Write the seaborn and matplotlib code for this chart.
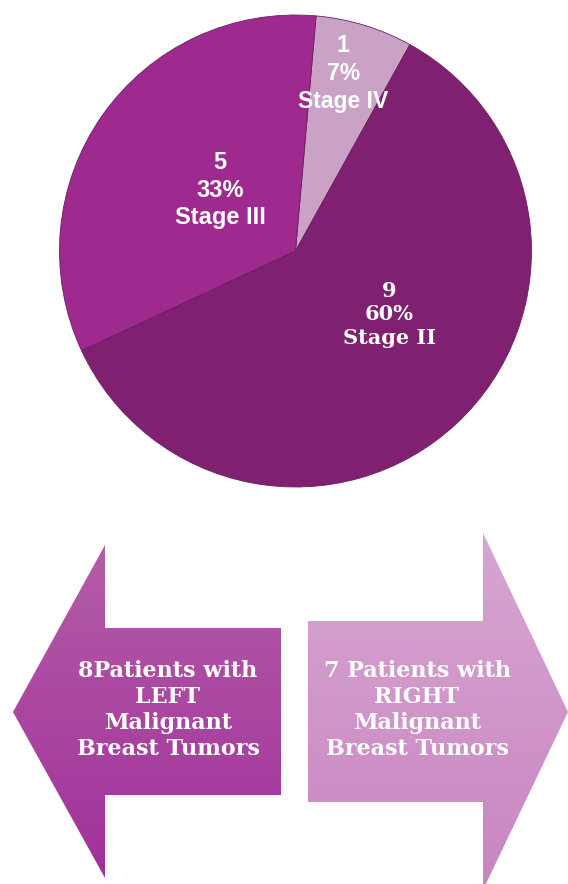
import numpy as np
import matplotlib
matplotlib.use("Agg")
import matplotlib.pyplot as plt
from matplotlib.patches import Polygon
from matplotlib.colors import LinearSegmentedColormap
import seaborn as sns

# ---- data ----
stages = ["Stage IV", "Stage III", "Stage II"]
counts = [1, 5, 9]
percents = ["7%", "33%", "60%"]
slice_colors = ["#C9A2C6", "#9E2A8F", "#802070"]
label_fonts = ["Liberation Sans", "Liberation Sans", "DejaVu Serif"]
label_sizes = [16.5, 17, 15]
label_spacing = [1.27, 1.27, 1.2]
label_r = [0.78, 0.41, 0.48]
label_shift = [2, -4, 13]

arrow_labels = ["8Patients with\nLEFT\nMalignant\nBreast Tumors",
                "7 Patients with\nRIGHT\nMalignant\nBreast Tumors"]

sns.set_theme(style="white")

W, H = 568, 884
fig = plt.figure(figsize=(W / 100, H / 100), dpi=100)
fig.patch.set_facecolor("white")

# ---- pie ----
cx, cy, R = 295.5, 251.0, 236.0
ax = fig.add_axes([(cx - R) / W, (H - cy - R) / H, 2 * R / W, 2 * R / H])
wedges, _ = ax.pie(counts, colors=slice_colors, startangle=61, counterclock=True,
                   radius=1, wedgeprops=dict(edgecolor="#6E1E60", linewidth=0.6))
ax.set_xlim(-1, 1)
ax.set_ylim(-1, 1)
ax.set_axis_off()
for w, n, p, s, fam, fs, ls, r, sh in zip(wedges, counts, percents, stages, label_fonts,
                                          label_sizes, label_spacing, label_r, label_shift):
    ang = np.deg2rad((w.theta1 + w.theta2) / 2 + sh)
    ax.text(r * np.cos(ang), r * np.sin(ang), f"{n}\n{p}\n{s}", ha="center", va="center",
            color="white", fontsize=fs, fontweight="bold", family=fam, linespacing=ls)

# ---- arrows ----
bg = fig.add_axes([0, 0, 1, 1], zorder=-1)
bg.set_xlim(0, W)
bg.set_ylim(H, 0)
bg.set_axis_off()

left_pts = [(13, 712), (105, 545), (105, 628), (281, 628), (281, 795), (105, 795), (105, 878)]
right_pts = [(568, 712), (483, 533), (483, 621), (308, 621), (308, 802), (483, 802), (483, 890)]
grads = [("#B45DA8", "#A1309A"), ("#D7A6D1", "#C985C1")]
arrow_text_pos = [(168, 710), (417, 710)]

for pts, (c0, c1), lab, (tx, ty) in zip([left_pts, right_pts], grads, arrow_labels, arrow_text_pos):
    poly = Polygon(pts, closed=True, facecolor="none", edgecolor="none")
    bg.add_patch(poly)
    xs = [p[0] for p in pts]
    ys = [p[1] for p in pts]
    cmap = LinearSegmentedColormap.from_list("g", [c0, c1])
    grad = np.linspace(0, 1, 256).reshape(-1, 1)
    im = bg.imshow(grad, cmap=cmap, aspect="auto", origin="upper",
                   extent=(min(xs), max(xs), max(ys), min(ys)))
    im.set_clip_path(poly)
    bg.text(tx, ty, lab, ha="center", va="center", color="white", fontsize=16,
            fontweight="bold", family="DejaVu Serif", linespacing=1.25)

bg.set_xlim(0, W)
bg.set_ylim(H, 0)
fig.savefig("out.png", dpi=100, facecolor="white")
